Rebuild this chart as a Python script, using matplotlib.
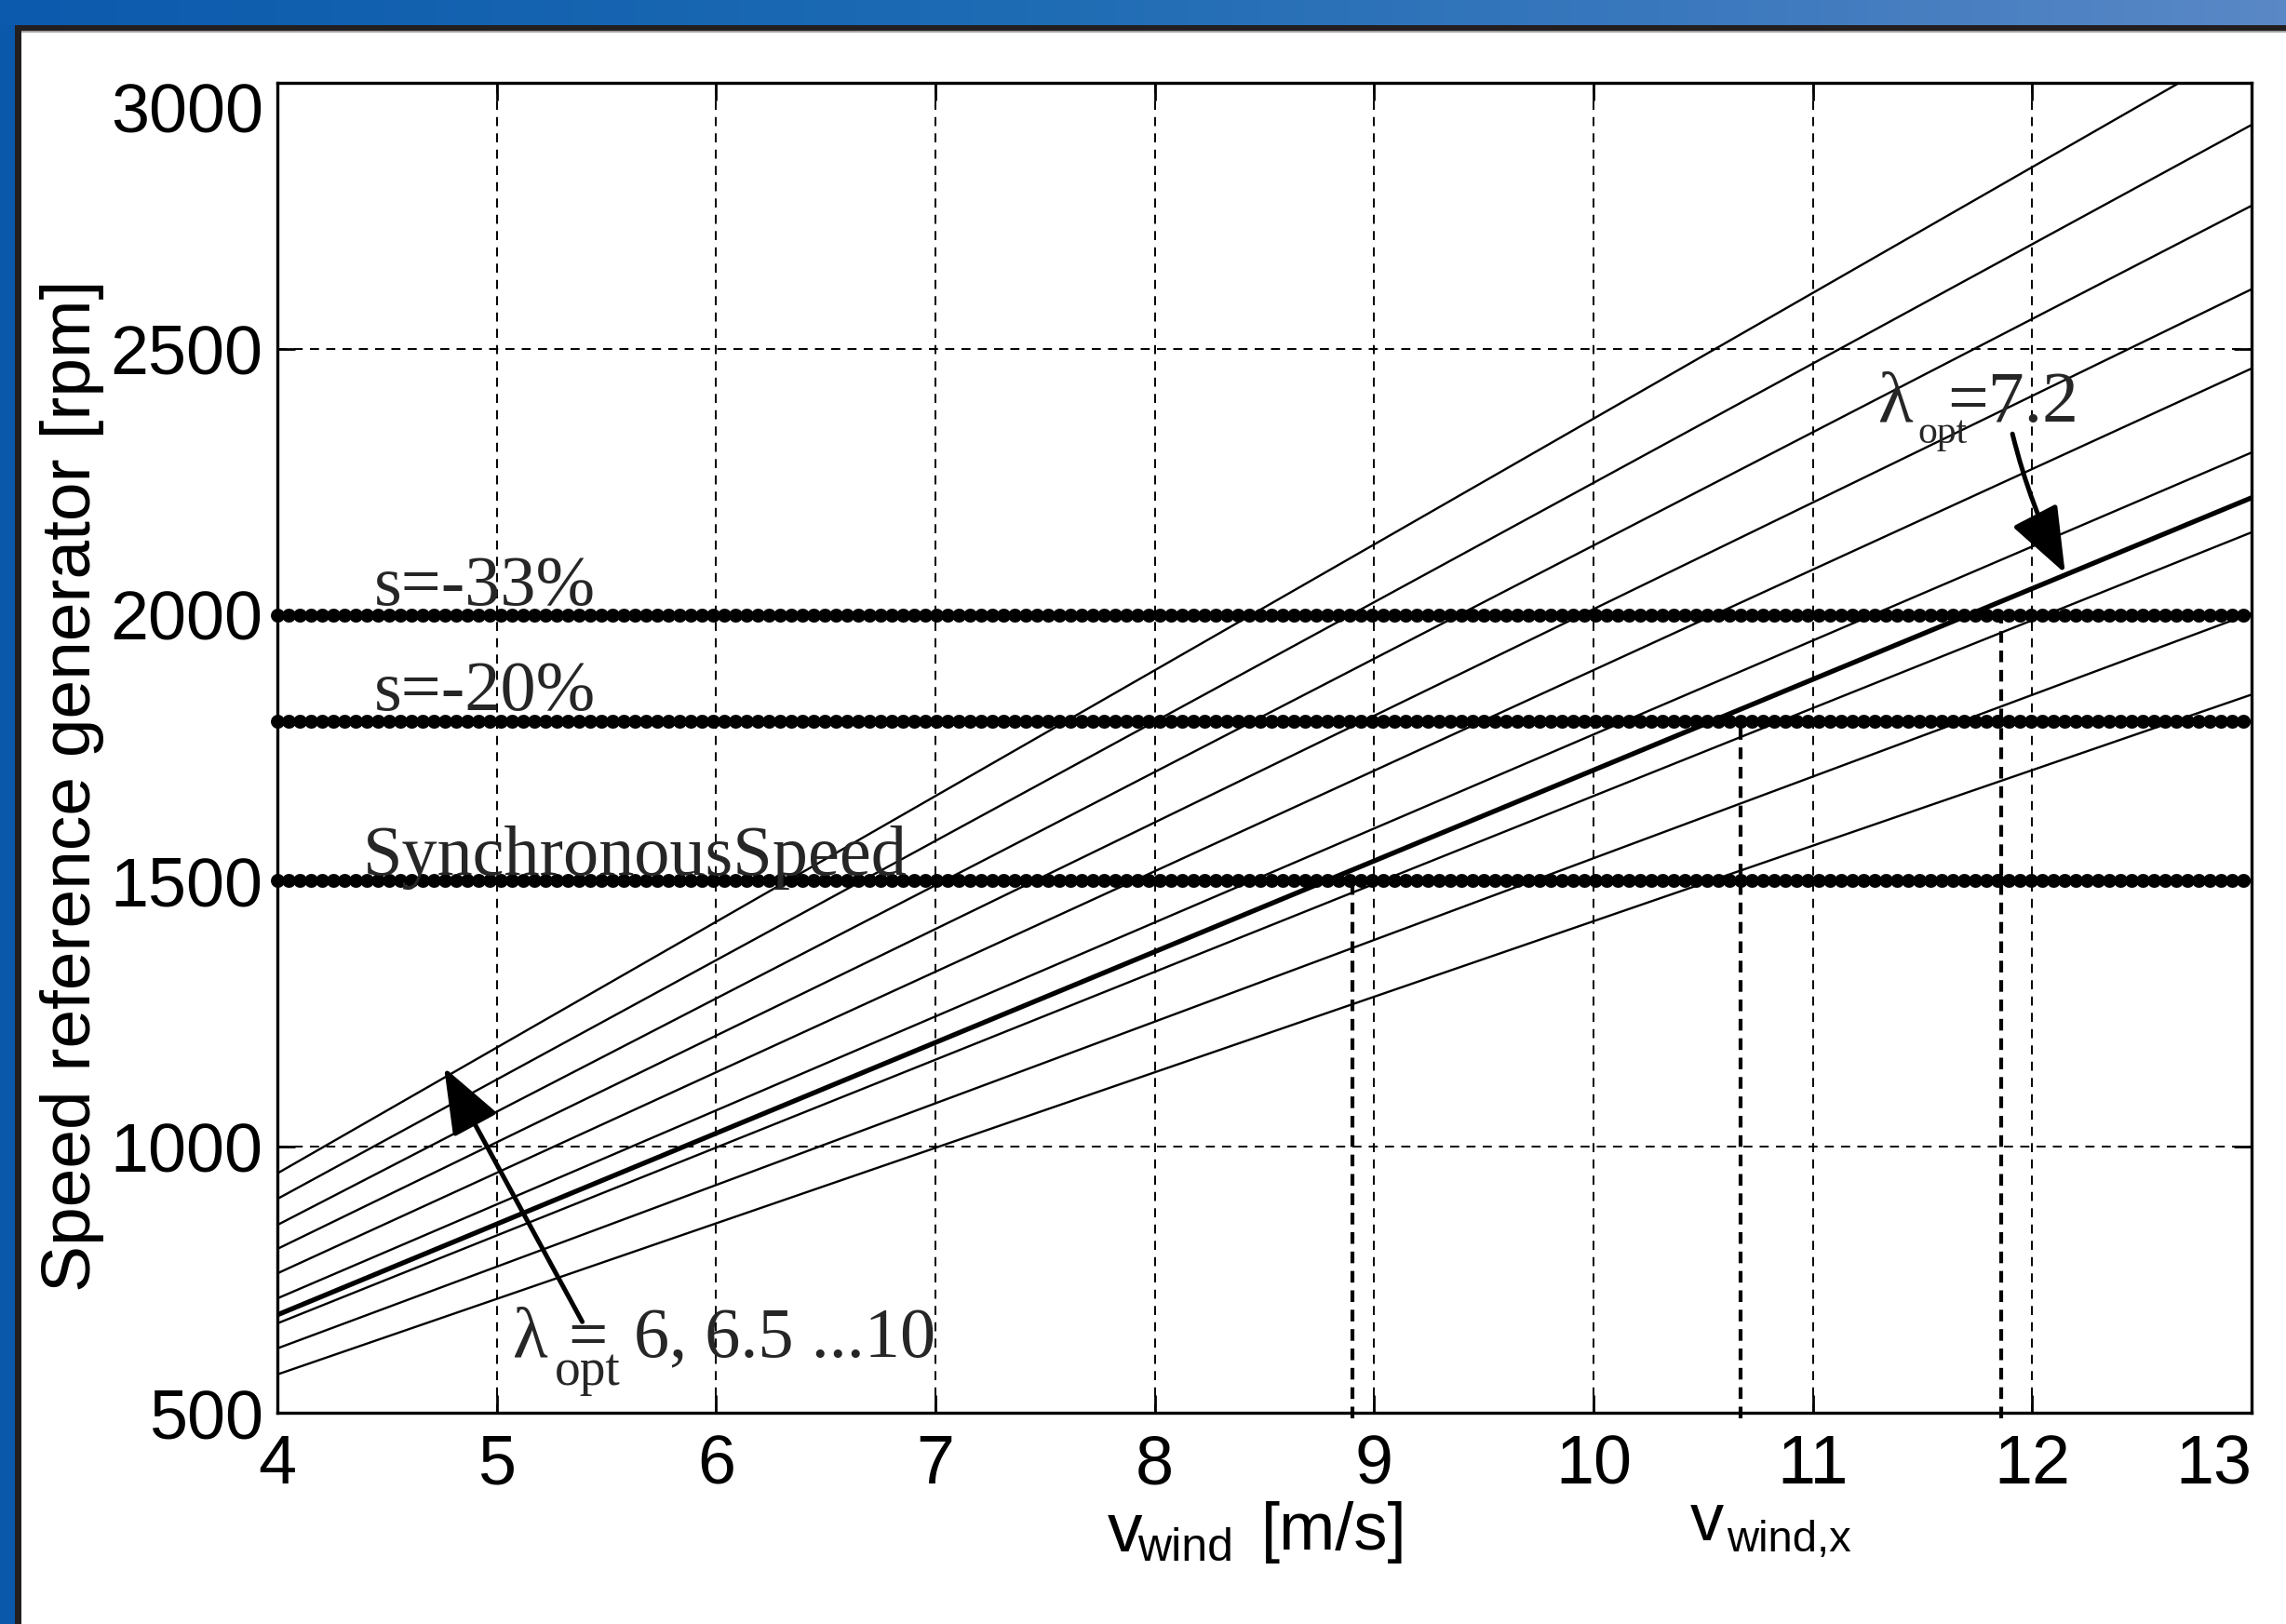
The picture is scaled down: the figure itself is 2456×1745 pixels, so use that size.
import numpy as np
import matplotlib.pyplot as plt
from matplotlib.colors import LinearSegmentedColormap
from matplotlib.patches import Rectangle

W, H = 2456, 1745
DPI = 200

# optimal tip-speed-ratio curves: generator speed at v_wind = 4 and 13 m/s
lambdas = [6, 6.5, 7, 7.2, 7.5, 8, 8.5, 9, 9.5, 10]
v_ends = [4, 13]
rpm_at_4 = [572, 621, 668, 684, 715, 762, 808, 853, 902, 950]
rpm_at_13 = [1850, 2003, 2155, 2220, 2305, 2463, 2612, 2769, 2921, 3078]
lam_highlight = 7.2

# slip limits and the wind speeds where the 7.2 curve reaches them
slip_labels = ['s=-33%', 's=-20%', 'SynchronousSpeed']
slip_rpm = [2000, 1800, 1500]
v_wind_x = [8.90, 10.67, 11.86]
v_wind_x_top = [1500, 1800, 2000]

x_ticks = list(range(4, 14))
y_ticks = [500, 1000, 1500, 2000, 2500, 3000]

SANS = ['Liberation Sans', 'DejaVu Sans']
SERIF = ['Liberation Serif', 'DejaVu Serif']
TXT = '#262626'


def fx(px):
    return px / W


def fy(py):
    return 1 - py / H


plt.rcParams['font.family'] = SANS
fig = plt.figure(figsize=(W / DPI, H / DPI), dpi=DPI, facecolor='white')

# --- slide frame: blue gradient band on top, blue strip on the left ---
band = fig.add_axes([0, fy(27), 1, 27 / H])
cmap = LinearSegmentedColormap.from_list(
    'band', [(0, '#0b5aad'), (0.45, '#1e6cb4'), (0.75, '#3c79be'), (1, '#5a88c6')])
band.imshow(np.linspace(0, 1, 256)[None, :], aspect='auto', cmap=cmap,
            extent=[0, 1, 0, 1])
band.axis('off')
fig.add_artist(Rectangle((0, 0), fx(16), fy(27), transform=fig.transFigure,
                         color='#0a58aa', lw=0))
fig.add_artist(Rectangle((fx(16), 0), fx(7), fy(27), transform=fig.transFigure,
                         color='#231f20', lw=0))
fig.add_artist(Rectangle((fx(16), fy(33)), 1, 6 / H, transform=fig.transFigure,
                         color='#231f20', lw=0))
fig.add_artist(Rectangle((fx(23), fy(34.5)), 1, 1.5 / H, transform=fig.transFigure,
                         color='#a0a0a0', lw=0))

# --- main axes ---
ax = fig.add_axes([fx(298), fy(1518), fx(2419) - fx(298), (1518 - 89) / H])

for lam, r4, r13 in zip(lambdas, rpm_at_4, rpm_at_13):
    lw = 1.9 if lam == lam_highlight else 0.85
    ax.plot(v_ends, [r4, r13], color='k', lw=lw, zorder=3)

for lvl in slip_rpm:
    ax.plot([4, 13], [lvl, lvl], color='k', lw=5.4,
            linestyle=(0, (0.01, 0.79)), dash_capstyle='round', zorder=4,
            clip_on=False)

for vx, top in zip(v_wind_x, v_wind_x_top):
    ax.plot([vx, vx], [490, top], color='k', lw=1.5,
            linestyle=(0, (3, 2)), zorder=2, clip_on=False)

ax.set_xlim(4, 13)
ax.set_ylim(500, 3000)
ax.set_xticks(x_ticks)
ax.set_yticks(y_ticks)
ax.grid(True, color='k', linestyle=(0, (5, 4)), linewidth=0.7)
ax.tick_params(direction='in', length=7, width=1, top=True, right=True,
               labelsize=26.5)
ax.tick_params(axis='x', pad=8)
ax.tick_params(axis='y', pad=5.5)
for s in ax.spines.values():
    s.set_linewidth(1.2)
ax.get_yticklabels()[-1].set_verticalalignment('top')
ax.get_xticklabels()[-1].set_horizontalalignment('right')

# slip annotations
slip_pos = [(4.44, 2019), (4.44, 1821), (4.39, 1511)]
for lab, (x, y) in zip(slip_labels, slip_pos):
    ax.text(x, y, lab, family=SERIF, fontsize=27.5, color=TXT,
            ha='left', va='baseline', zorder=5)

# lambda_opt = 7.2 label and arrow
ax.text(11.30, 2363, 'λ', family=SERIF, fontsize=28, color=TXT, va='baseline')
ax.text(11.48, 2323, 'opt', family=SERIF, fontsize=15, color=TXT, va='baseline')
ax.text(11.615, 2363, '=7.2', family=SERIF, fontsize=28, color=TXT, va='baseline')
ax.annotate('', xy=(12.15, 2078), xytext=(11.91, 2340),
            arrowprops=dict(arrowstyle='-|>,head_length=1.1,head_width=0.42',
                            color='k', lw=1.8, mutation_scale=20,
                            shrinkA=0, shrinkB=0, connectionstyle='arc3,rad=0.06'))

# lambda_opt = 6 ... 10 label and arrow
ax.text(5.073, 605, 'λ', family=SERIF, fontsize=28, color=TXT, va='baseline')
ax.text(5.264, 552, 'opt', family=SERIF, fontsize=20, color=TXT, va='baseline')
ax.text(5.324, 605, '=', family=SERIF, fontsize=27, color=TXT, va='baseline')
ax.text(5.625, 605, '6, 6.5 ...10', family=SERIF, fontsize=27.5, color=TXT,
        va='baseline')
ax.annotate('', xy=(4.76, 1149), xytext=(5.39, 671),
            arrowprops=dict(arrowstyle='-|>,head_length=1.1,head_width=0.42',
                            color='k', lw=1.8, mutation_scale=20,
                            shrinkA=0, shrinkB=0))

# axis labels
fig.text(fx(78), fy(844), 'Speed reference generator [rpm]', rotation=90,
         fontsize=27, ha='center', va='center')
fig.text(fx(1190), fy(1667), 'v', fontsize=27, va='baseline')
fig.text(fx(1222), fy(1677), 'wind', fontsize=18, va='baseline')
fig.text(fx(1355), fy(1665), '[m/s]', fontsize=26, va='baseline')
fig.text(fx(1816), fy(1655), 'v', fontsize=26, va='baseline')
fig.text(fx(1855), fy(1667), 'wind,x', fontsize=17, va='baseline')

fig.savefig('out.png', dpi=DPI, facecolor='white')
plt.close(fig)
